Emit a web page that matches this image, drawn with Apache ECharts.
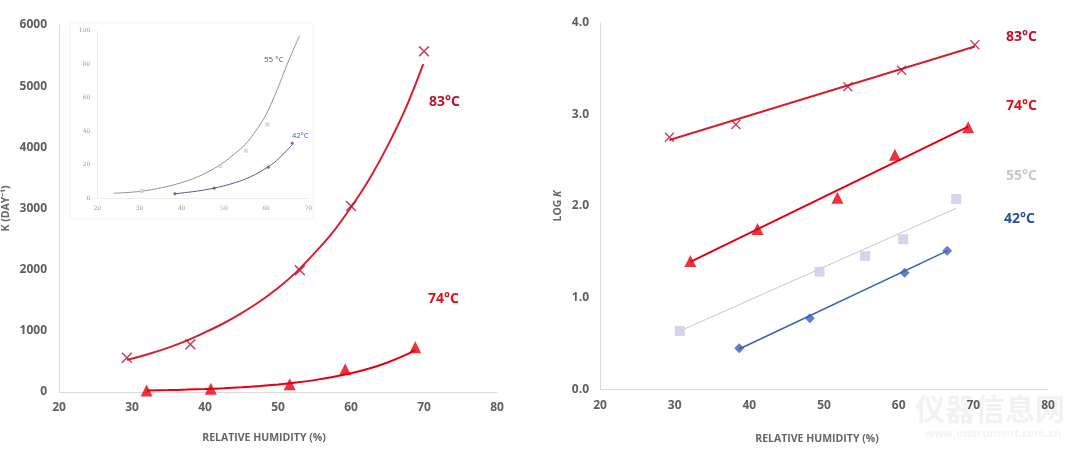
<!DOCTYPE html>
<html>
<head>
<meta charset="utf-8">
<script src="https://cdn.jsdelivr.net/npm/echarts@6/dist/echarts.min.js"></script>
<style>
html,body{margin:0;padding:0;background:#fff;}
#c{width:1080px;height:454px;}
</style>
</head>
<body>
<div id="c"></div>
<script>
// ---------- Data ----------
// Left panel: k (day^-1) vs relative humidity
const rh83 = [29.3, 38.0, 53.0, 60.0, 70.0];
const k83 = [560, 780, 1990, 3040, 5570];
const rh74 = [32.0, 40.8, 51.6, 59.2, 68.8];
const k74 = [25, 55, 125, 370, 730];
// fitted curves as drawn
const curveRh83 = [29.3, 32.5, 35, 37.5, 40, 42.5, 45, 47.5, 50, 52.5, 55, 57.5, 60, 62.5, 65, 67.5, 69.9];
const curveK83 = [525, 630, 725, 840, 975, 1120, 1290, 1480, 1700, 1960, 2270, 2610, 3020, 3480, 4020, 4640, 5360];
const curveRh74 = [32, 35, 37.5, 40, 42.5, 45, 47.5, 50, 52.5, 55, 57.5, 60, 62.5, 65, 67.5, 68.8];
const curveK74 = [25, 31, 39, 49, 62, 78, 98, 123, 154, 194, 244, 306, 384, 483, 606, 690];

// Inset: k vs RH for 55°C and 42°C
const insetRh55 = [30.5, 49.1, 55.2, 60.3];
const insetK55 = [4.3, 19.3, 28.4, 44];
const insetCurveRh55 = [23.9, 27.5, 30, 32.5, 35, 37.5, 40, 42.5, 45, 47.5, 50, 52.5, 55, 57.5, 60, 62.5, 65, 67.9];
const insetCurveK55 = [3, 3.5, 4.1, 5, 6.2, 7.6, 9.4, 11.5, 14.2, 17.5, 21.5, 26.5, 32, 40, 50, 64, 80, 97];
const insetRh42 = [38.4, 47.7, 60.5, 66.2];
const insetK42 = [2.7, 6.0, 18.5, 32.8];
const insetCurveRh42 = [38.4, 42.5, 45, 47.5, 50, 52.5, 55, 57.5, 60, 62.5, 66.2];
const insetCurveK42 = [2.7, 3.9, 4.8, 6, 7.4, 9.2, 11.4, 14.3, 18, 22.5, 32];

// Right panel: log k vs RH
const lrh83 = [29.3, 38.2, 53.2, 60.4, 70.2];
const logk83 = [2.75, 2.89, 3.30, 3.48, 3.76];
const fitRh83 = [29.3, 70.2];
const fitLog83 = [2.72, 3.74];
const lrh74 = [32.1, 41.1, 51.8, 59.5, 69.3];
const logk74 = [1.40, 1.75, 2.09, 2.56, 2.86];
const fitRh74 = [32.1, 69.3];
const fitLog74 = [1.39, 2.865];
const lrh55 = [30.7, 49.4, 55.5, 60.6, 67.7];
const logk55 = [0.636, 1.283, 1.455, 1.637, 2.076];
const fitRh55 = [30.7, 67.7];
const fitLog55 = [0.636, 1.975];
const lrh42 = [38.65, 48.1, 60.8, 66.5];
const logk42 = [0.447, 0.775, 1.272, 1.512];
const fitRh42 = [38.65, 66.5];
const fitLog42 = [0.44, 1.51];

const seriesLabels = ['83°C', '74°C', '55°C', '42°C'];
const xTitle = 'RELATIVE HUMIDITY (%)';
const leftYTitle = 'K (DAY⁻¹)';

// ---------- helpers ----------
const zip = (a, b) => a.map((v, i) => [v, b[i]]);
const CROSS = 'path://M0,1L1,0L5,4L9,0L10,1L6,5L10,9L9,10L5,6L1,10L0,9L4,5Z';
const FONT = '"Open Sans", "Noto Sans", sans-serif';
const tickStyle = {color: '#5f5f5f', fontSize: 12, fontWeight: 'bold', fontFamily: FONT};
const axisLine = {show: true, lineStyle: {color: '#dadada', width: 1}};

const C83m = '#b8143c', C83l = '#d3202e', C83t = '#c0102c';
const C74 = '#e6000f', C74t = '#e0101a';
const C55 = '#c9cbe6', C55l = '#c6c6cc', C55t = '#c4c6dc';
const C42 = '#3a60b6', C42t = '#2b4ea0';

const chart = echarts.init(document.getElementById('c'), null, {renderer: 'canvas'});

const option = {
  backgroundColor: '#fff',
  animation: false,
  grid: [
    {left: 57, right: 583, top: 25, bottom: 62},
    {left: 600, right: 32, top: 22.7, bottom: 64.7},
    {left: 97.3, right: 771.7, top: 30.7, bottom: 255.7}
  ],
  xAxis: [
    {gridIndex: 0, type: 'value', min: 20, max: 80, interval: 10,
     axisLine: axisLine, axisTick: {show: false}, splitLine: {show: false},
     axisLabel: Object.assign({margin: 10, formatter: v => String(v)}, tickStyle),
     name: xTitle, nameLocation: 'middle', nameGap: 41,
     nameTextStyle: {color: '#666', fontSize: 10.5, fontWeight: 'bold', fontFamily: FONT, padding: [0, 28, 0, 0]}},
    {gridIndex: 1, type: 'value', min: 20, max: 80, interval: 10,
     axisLine: axisLine, axisTick: {show: false}, splitLine: {show: false},
     axisLabel: Object.assign({margin: 10, formatter: v => String(v)}, tickStyle),
     name: xTitle, nameLocation: 'middle', nameGap: 44,
     nameTextStyle: {color: '#666', fontSize: 10.5, fontWeight: 'bold', fontFamily: FONT, padding: [0, 14, 0, 0]}},
    {gridIndex: 2, type: 'value', min: 20, max: 70, interval: 10,
     axisLine: {show: true, lineStyle: {color: '#eeeeee'}}, axisTick: {show: false}, splitLine: {show: false},
     axisLabel: {color: '#999', fontSize: 6, fontFamily: 'DejaVu Serif, serif', margin: 7}}
  ],
  yAxis: [
    {gridIndex: 0, type: 'value', min: 0, max: 6000, interval: 1000,
     axisLine: axisLine, axisTick: {show: false}, splitLine: {show: false},
     axisLabel: Object.assign({margin: 12, formatter: v => String(v)}, tickStyle),
     name: leftYTitle, nameLocation: 'middle', nameGap: 47,
     nameTextStyle: {color: '#666', fontSize: 10.5, fontWeight: 'bold', fontFamily: FONT}},
    {gridIndex: 1, type: 'value', min: 0, max: 4, interval: 1,
     axisLine: axisLine, axisTick: {show: false}, splitLine: {show: false},
     axisLabel: Object.assign({margin: 11, formatter: v => v.toFixed(1)}, tickStyle),
     name: '{a|LOG }{b|K}', nameLocation: 'middle', nameGap: 36,
     nameTextStyle: {rich: {
       a: {color: '#666', fontSize: 10.5, fontWeight: 'bold', fontFamily: FONT},
       b: {color: '#666', fontSize: 10.5, fontWeight: 'bold', fontStyle: 'italic', fontFamily: FONT}}}},
    {gridIndex: 2, type: 'value', min: 0, max: 100, interval: 20,
     axisLine: {show: true, lineStyle: {color: '#eeeeee'}}, axisTick: {show: false}, splitLine: {show: false},
     axisLabel: {color: '#999', fontSize: 6, fontFamily: 'DejaVu Serif, serif', margin: 7}}
  ],
  series: [
    // left panel
    {type: 'line', xAxisIndex: 0, yAxisIndex: 0, data: zip(curveRh83, curveK83), smooth: 0.3,
     showSymbol: false, lineStyle: {color: C83l, width: 2}, z: 3},
    {type: 'scatter', xAxisIndex: 0, yAxisIndex: 0, data: zip(rh83, k83), symbol: CROSS, symbolSize: 11,
     itemStyle: {color: C83m}, z: 4},
    {type: 'line', xAxisIndex: 0, yAxisIndex: 0, data: zip(curveRh74, curveK74), smooth: 0.3,
     showSymbol: false, lineStyle: {color: C74, width: 2}, z: 3},
    {type: 'scatter', xAxisIndex: 0, yAxisIndex: 0, data: zip(rh74, k74), symbol: 'triangle', symbolSize: 12,
     itemStyle: {color: C74}, z: 4},
    // inset
    {type: 'line', xAxisIndex: 2, yAxisIndex: 2, data: zip(insetCurveRh55, insetCurveK55), smooth: 0.3,
     showSymbol: false, lineStyle: {color: '#777', width: 0.8}, z: 3},
    {type: 'scatter', xAxisIndex: 2, yAxisIndex: 2, data: zip(insetRh55, insetK55), symbol: 'rect', symbolSize: 4,
     itemStyle: {color: '#cfcfd6'}, z: 4},
    {type: 'line', xAxisIndex: 2, yAxisIndex: 2, data: zip(insetCurveRh42, insetCurveK42), smooth: 0.3,
     showSymbol: false, lineStyle: {color: '#56608a', width: 1}, z: 3},
    {type: 'scatter', xAxisIndex: 2, yAxisIndex: 2, data: zip(insetRh42, insetK42), symbol: 'diamond', symbolSize: 4,
     itemStyle: {color: '#44579a'}, z: 4},
    // right panel
    {type: 'line', xAxisIndex: 1, yAxisIndex: 1, data: zip(fitRh83, fitLog83), showSymbol: false,
     lineStyle: {color: C83l, width: 2}, z: 3},
    {type: 'scatter', xAxisIndex: 1, yAxisIndex: 1, data: zip(lrh83, logk83), symbol: CROSS, symbolSize: 10,
     itemStyle: {color: C83m}, z: 4},
    {type: 'line', xAxisIndex: 1, yAxisIndex: 1, data: zip(fitRh74, fitLog74), showSymbol: false,
     lineStyle: {color: C74, width: 2}, z: 3},
    {type: 'scatter', xAxisIndex: 1, yAxisIndex: 1, data: zip(lrh74, logk74), symbol: 'triangle', symbolSize: 12,
     itemStyle: {color: C74}, z: 4},
    {type: 'line', xAxisIndex: 1, yAxisIndex: 1, data: zip(fitRh55, fitLog55), showSymbol: false,
     lineStyle: {color: C55l, width: 1}, z: 3},
    {type: 'scatter', xAxisIndex: 1, yAxisIndex: 1, data: zip(lrh55, logk55), symbol: 'rect', symbolSize: 10,
     itemStyle: {color: C55}, z: 4},
    {type: 'line', xAxisIndex: 1, yAxisIndex: 1, data: zip(fitRh42, fitLog42), showSymbol: false,
     lineStyle: {color: C42, width: 1.5}, z: 3},
    {type: 'scatter', xAxisIndex: 1, yAxisIndex: 1, data: zip(lrh42, logk42), symbol: 'diamond', symbolSize: 10,
     itemStyle: {color: C42}, z: 4}
  ],
  graphic: [
    // faint inset frame
    {type: 'rect', shape: {x: 70, y: 23, width: 243, height: 196}, z: -1,
     style: {fill: '#fff', stroke: '#f3f3f3', lineWidth: 1}},
    // watermark
    {type: 'text', left: 915, top: 394, z: -1,
     style: {text: '仪器信息网', fill: '#f2f2f2', font: 'bold 30px "Noto Sans CJK SC"'}},
    {type: 'text', left: 925, top: 428, z: -1,
     style: {text: 'www.instrument.com.cn', fill: '#f3f3f3', font: 'bold 11px "Open Sans"'}},
    // left panel labels
    {type: 'text', left: 429, top: 95, z: 10,
     style: {text: seriesLabels[0], fill: C83t, font: 'bold 14px "Open Sans"'}},
    {type: 'text', left: 428, top: 292, z: 10,
     style: {text: seriesLabels[1], fill: C74t, font: 'bold 14px "Open Sans"'}},
    // inset labels
    {type: 'text', left: 264, top: 56, z: 10,
     style: {text: '55 °C', fill: '#555', font: '8px "Open Sans"'}},
    {type: 'text', left: 292, top: 132, z: 10,
     style: {text: seriesLabels[3], fill: C42, font: '7.5px "Open Sans"'}},
    // right panel labels
    {type: 'text', left: 1006, top: 30, z: 10,
     style: {text: seriesLabels[0], fill: C83t, font: 'bold 14px "Open Sans"'}},
    {type: 'text', left: 1006, top: 99, z: 10,
     style: {text: seriesLabels[1], fill: C74t, font: 'bold 14px "Open Sans"'}},
    {type: 'text', left: 1006, top: 169, z: 10,
     style: {text: seriesLabels[2], fill: C55t, font: 'bold 14px "Open Sans"'}},
    {type: 'text', left: 1004, top: 212, z: 10,
     style: {text: seriesLabels[3], fill: C42t, font: 'bold 14px "Open Sans"'}}
  ]
};
chart.setOption(option);
</script>
</body>
</html>
